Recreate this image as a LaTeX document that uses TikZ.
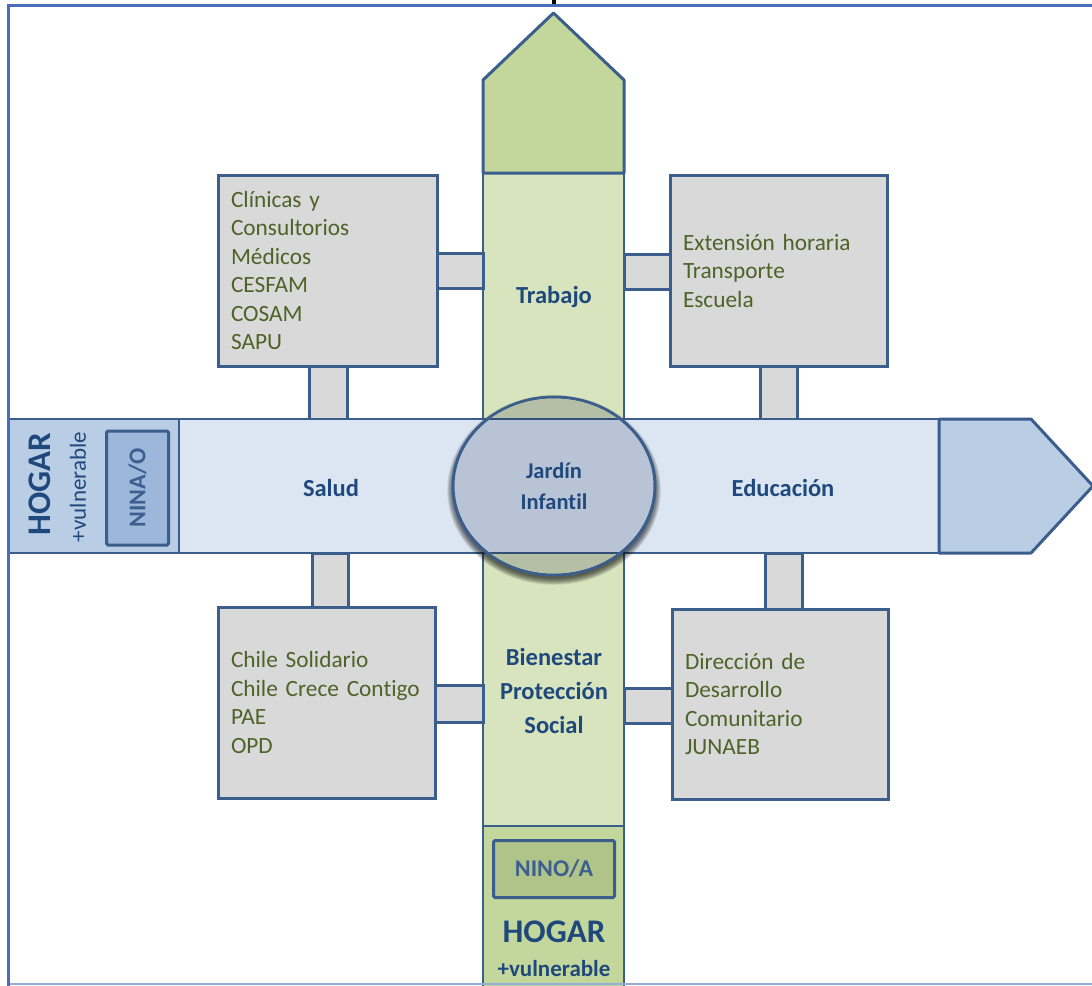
\documentclass[tikz,border=0pt]{standalone}
\usepackage{fontspec}
\setmainfont{Carlito}[Ligatures={NoCommon}, WordSpace=0.85]
\usetikzlibrary{shapes.geometric,calc}

\definecolor{bord}{HTML}{3B5E8C}
\definecolor{framec}{HTML}{4B6CB7}
\definecolor{frameb}{HTML}{95AED3}
\definecolor{grayf}{HTML}{D9D9D9}
\definecolor{olivet}{HTML}{4F6228}
\definecolor{lblue}{HTML}{1F497D}
\definecolor{gl}{HTML}{D7E4BD}
\definecolor{gd}{HTML}{C3D69B}
\definecolor{gb}{HTML}{B0C48A}
\definecolor{bl}{HTML}{DCE6F2}
\definecolor{bd}{HTML}{B9CDE5}
\definecolor{bb}{HTML}{9DB7DA}
\definecolor{jf}{HTML}{B8C4D5}
\definecolor{jg}{HTML}{B4BFA6}
\definecolor{ninotext}{HTML}{3D5F8F}

\begin{document}
\begin{tikzpicture}[x=1pt,y=-1pt,
  infobox/.style={draw=bord, line width=3pt, fill=grayf, rectangle, anchor=north west,
    outer sep=0pt, inner xsep=13pt, align=left, text=olivet,
    font=\fontsize{23.3}{28.5}\selectfont},
  conn/.style={draw=bord, line width=3pt, fill=grayf},
  barline/.style={draw=bord, line width=2pt},
  lbl/.style={text=lblue, font=\bfseries\fontsize{24.5}{34}\selectfont, align=center},
  ninabox/.style={draw=bord, line width=3pt, rounded corners=1.5pt, text=ninotext,
    font=\bfseries\fontsize{24}{24}\selectfont, inner sep=0pt},
  hogarf/.style={text=lblue, font=\bfseries\fontsize{33}{33}\selectfont, inner sep=0pt},
  vulnf/.style={text=lblue, font=\bfseries\fontsize{23}{23}\selectfont, inner sep=0pt},
]
\useasboundingbox (0,0) rectangle (1092,985);

% reference coordinates of the bars
\coordinate (vbarL) at (483,0);
\coordinate (vbarR) at (624,0);
\coordinate (hbarT) at (0,419);
\coordinate (hbarB) at (0,553);

% boxes (placed first so connectors can refer to them, drawn on top later)
\path node[infobox, text width=193pt, minimum height=191pt] (clin) at (218,175)
  {Clínicas y\\Consultorios\\Médicos\\CESFAM\\COSAM\\SAPU};
\path node[infobox, text width=191pt, minimum height=191pt] (ext) at (670,175)
  {Extensión horaria\\Transporte\\Escuela};
\path node[infobox, text width=191pt, minimum height=191pt] (chile) at (218,607)
  {Chile Solidario\\Chile Crece Contigo\\PAE\\OPD};
\path node[infobox, text width=190pt, minimum height=190pt] (dir) at (672,609)
  {Dirección de\\Desarrollo\\Comunitario\\JUNAEB};

% green vertical bar
\fill[gl] (483,173) rectangle (624,826);
\fill[gd] (483,826) rectangle (624,986);
\draw[barline] (483,173) -- (483,986) (624,173) -- (624,986);
\draw[bord, line width=2.5pt] (483,826) -- (624,826);
\filldraw[fill=gd, draw=bord, line width=3pt, line join=round]
  (483,173) -- (483,80) -- (553.5,13) -- (624,80) -- (624,173) -- cycle;

% connectors
\filldraw[conn] ($(clin.east)+(0,-17.5)$) rectangle ($(vbarL |- clin.east)+(0,17.5)$);
\filldraw[conn] ($(ext.west)+(0,-16)$) rectangle ($(vbarR |- ext.west)+(0,18.5)$);
\filldraw[conn] ($(clin.south)+(-18.5,0)$) rectangle ($(clin.south |- hbarT)+(20,0)$);
\filldraw[conn] ($(ext.south)+(-18.5,0)$) rectangle ($(ext.south |- hbarT)+(18.5,0)$);
\filldraw[conn] ($(chile.north)+(-14.5,0)$) rectangle ($(chile.north |- hbarB)+(22,0)$);
\filldraw[conn] ($(chile.east)+(0,-17.5)$) rectangle ($(vbarL |- chile.east)+(0,20)$);
\filldraw[conn] ($(dir.north)+(-15,0)$) rectangle ($(dir.north |- hbarB)+(22,0)$);
\filldraw[conn] ($(dir.west)+(0,-16)$) rectangle ($(vbarR |- dir.west)+(0,19)$);

% redraw boxes on top of connectors
\path node[infobox, text width=193pt, minimum height=191pt] at (218,175)
  {Clínicas y\\Consultorios\\Médicos\\CESFAM\\COSAM\\SAPU};
\path node[infobox, text width=191pt, minimum height=191pt] at (670,175)
  {Extensión horaria\\Transporte\\Escuela};
\path node[infobox, text width=191pt, minimum height=191pt] at (218,607)
  {Chile Solidario\\Chile Crece Contigo\\PAE\\OPD};
\path node[infobox, text width=190pt, minimum height=190pt] at (672,609)
  {Dirección de\\Desarrollo\\Comunitario\\JUNAEB};

% blue horizontal bar
\fill[bd] (10,419) rectangle (179,553);
\fill[bl] (179,419) rectangle (939,553);
\draw[barline] (10,419) -- (939,419) (10,553) -- (939,553);
\draw[bord, line width=1.2pt] (179,419) -- (179,553);
\filldraw[fill=bd, draw=bord, line width=3pt, line join=round]
  (939,419) -- (1031,419) -- (1093,486) -- (1031,553) -- (939,553) -- cycle;

% soft shadow of the central circle
\foreach \i in {0,1,...,7}
  \fill[black, opacity=0.1] (554,490) ellipse [x radius={100.5+\i*0.9}, y radius={88.5+\i*0.9}];

% central circle
\node[ellipse, minimum width=202pt, minimum height=178pt, inner sep=0pt, fill=jf,
  draw=bord, line width=3pt,
  lbl, font=\bfseries\fontsize{22.5}{31}\selectfont] (jardin) at (554,486) {Jardín\\Infantil};
\begin{scope}
  \clip (jardin.center) ellipse [x radius=99.5, y radius=87.5];
  \fill[jg] (483,380) rectangle (624,419);
  \fill[jg] (483,553) rectangle (624,600);
  \draw[bord!85!black, line width=1.6pt] (440,419) -- (670,419) (440,553) -- (670,553);
\end{scope}

% labels
\node[lbl] (trab) at (554,297) {Trabajo};
\node[lbl] (salud) at (331,488) {Salud};
\node[lbl] (edu) at (783,488) {Educación};
\node[lbl] (bien) at (554,691) {Bienestar\\Protección\\Social};

% left home
\node[hogarf, rotate=90] (hogarL) at (40,484) {HOGAR};
\node[vulnf, rotate=90, font=\fontsize{23}{23}\selectfont] (vulnL) at (78,487) {+vulnerable};
\node[ninabox, fill=bb, rotate=90, minimum width=114pt, minimum height=62pt] (ninaL) at (137.5,488) {NINA/O};

% bottom home
\node[ninabox, fill=gb, minimum width=121pt, minimum height=57pt] (ninoB) at (554,869) {NINO/A};
\node[hogarf] (hogarB) at (554,932) {HOGAR};
\node[vulnf] (vulnB) at (554,969) {+vulnerable};

% frame
\draw[framec, line width=3pt] (8.5,986) -- (8.5,5.5) -- (1093,5.5);
\draw[frameb, line width=1.5pt] (10,984) -- (1093,984);
\fill[black] (551.5,-1) rectangle (555.5,3.5);
\end{tikzpicture}
\end{document}
